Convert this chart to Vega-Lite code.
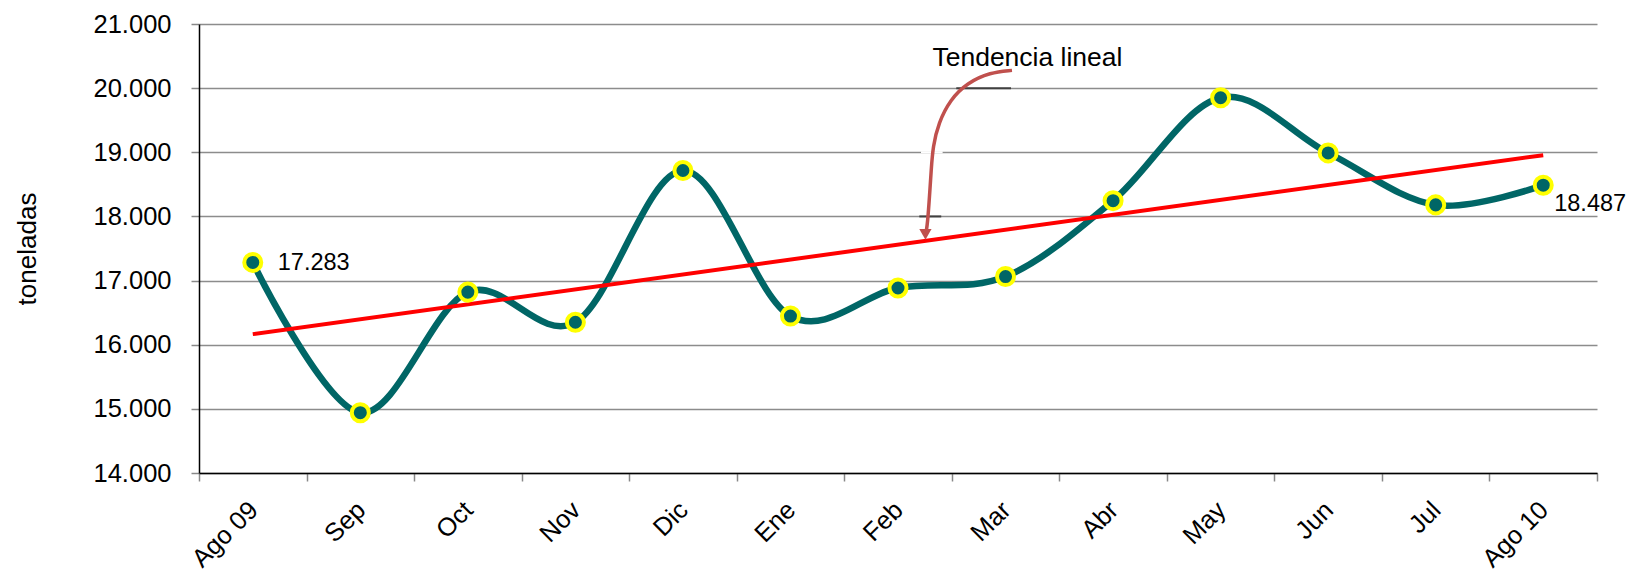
{
  "$schema": "https://vega.github.io/schema/vega-lite/v6.json",
  "width": 1398,
  "height": 449,
  "autosize": {"type": "none"},
  "padding": {"left": 199, "top": 24, "right": 34, "bottom": 103},
  "background": "white",
  "config": {
    "font": "Liberation Sans",
    "view": {"stroke": null},
    "locale": {"number": {"decimal": ",", "thousands": ".", "grouping": [3], "currency": ["", " €"]}}
  },
  "datasets": {
    "serie": [
      {"mes": "Ago 09", "t": 17283},
      {"mes": "Sep", "t": 14940},
      {"mes": "Oct", "t": 16820},
      {"mes": "Nov", "t": 16350},
      {"mes": "Dic", "t": 18716},
      {"mes": "Ene", "t": 16447},
      {"mes": "Feb", "t": 16884},
      {"mes": "Mar", "t": 17063},
      {"mes": "Abr", "t": 18246},
      {"mes": "May", "t": 19850},
      {"mes": "Jun", "t": 18990},
      {"mes": "Jul", "t": 18180},
      {"mes": "Ago 10", "t": 18487}
    ],
    "tendencia": [
      {"mes": "Ago 09", "t": 16165},
      {"mes": "Ago 10", "t": 18955}
    ],
    "flecha": [
      {"i": 7.06, "t": 20277},
      {"i": 6.858, "t": 20246},
      {"i": 6.641, "t": 20080},
      {"i": 6.486, "t": 19820},
      {"i": 6.377, "t": 19461},
      {"i": 6.325, "t": 19092},
      {"i": 6.309, "t": 18729},
      {"i": 6.293, "t": 18312},
      {"i": 6.275, "t": 17898},
      {"i": 6.262, "t": 17760}
    ],
    "punta": [{"i": 6.255, "t": 17720}],
    "nota": [{"i": 6.32, "t": 20464, "txt": "Tendencia lineal"}],
    "marcas": [
      {"i": 6.542, "i2": 7.051, "t": 20000, "c": "dark"},
      {"i": 6.198, "i2": 6.402, "t": 18000, "c": "dark"},
      {"i": 6.214, "i2": 6.415, "t": 19000, "c": "gap"}
    ]
  },
  "layer": [
    {
      "layer": [
        {
          "data": {"name": "serie"},
          "mark": {"type": "line", "color": "#006666", "strokeWidth": 6.5, "interpolate": "cardinal"},
          "encoding": {
            "x": {
              "field": "mes", "type": "ordinal", "sort": null,
              "scale": {"type": "band", "paddingInner": 0, "paddingOuter": 0},
              "axis": {
                "title": null, "tickBand": "extent", "labelAngle": -45, "labelFontSize": 25.5,
                "labelColor": "black", "tickColor": "#888888", "tickSize": 8, "tickWidth": 1.5,
                "domainColor": "black", "domainWidth": 1.5, "labelPadding": 16, "labelOffset": -8, "grid": false
              }
            },
            "y": {
              "field": "t", "type": "quantitative",
              "scale": {"domain": [14000, 21000], "nice": false, "zero": false},
              "axis": {
                "title": "toneladas", "titleFontSize": 26, "titleFontWeight": "normal", "titleColor": "black",
                "titlePadding": 53, "values": [14000, 15000, 16000, 17000, 18000, 19000, 20000, 21000],
                "format": ",d", "labelFontSize": 25.5, "labelColor": "black", "labelPadding": 20,
                "tickColor": "#888888", "tickSize": 8, "tickWidth": 1.5,
                "domainColor": "black", "domainWidth": 1.5,
                "grid": true, "gridColor": "#8c8c8c", "gridWidth": 1.5
              }
            }
          }
        },
        {
          "data": {"name": "tendencia"},
          "mark": {"type": "line", "color": "#ff0000", "strokeWidth": 4},
          "encoding": {
            "x": {"field": "mes", "type": "ordinal", "sort": null},
            "y": {"field": "t", "type": "quantitative"}
          }
        },
        {
          "data": {"name": "serie"},
          "mark": {"type": "point", "filled": false, "fill": "#006666", "stroke": "#ffff00", "strokeWidth": 4, "size": 290, "opacity": 1},
          "encoding": {
            "x": {"field": "mes", "type": "ordinal", "sort": null},
            "y": {"field": "t", "type": "quantitative"}
          }
        },
        {
          "data": {"name": "serie"},
          "transform": [{"filter": "datum.mes == 'Ago 09'"}],
          "mark": {"type": "text", "align": "left", "baseline": "middle", "dx": 25, "dy": 1, "fontSize": 23.5, "color": "black"},
          "encoding": {
            "x": {"field": "mes", "type": "ordinal", "sort": null},
            "y": {"field": "t", "type": "quantitative"},
            "text": {"field": "t", "type": "quantitative", "format": ",d"}
          }
        },
        {
          "data": {"name": "serie"},
          "transform": [{"filter": "datum.mes == 'Ago 10'"}],
          "mark": {"type": "text", "align": "left", "baseline": "middle", "dx": 11, "dy": 19, "fontSize": 23.5, "color": "black"},
          "encoding": {
            "x": {"field": "mes", "type": "ordinal", "sort": null},
            "y": {"field": "t", "type": "quantitative"},
            "text": {"field": "t", "type": "quantitative", "format": ",d"}
          }
        }
      ]
    },
    {
      "layer": [
        {
          "data": {"name": "marcas"},
          "mark": {"type": "rule", "strokeWidth": 2},
          "encoding": {
            "x": {"field": "i", "type": "quantitative", "scale": {"domain": [-0.5, 12.5], "nice": false, "zero": false}, "axis": null},
            "x2": {"field": "i2"},
            "y": {"field": "t", "type": "quantitative"},
            "color": {"field": "c", "type": "nominal", "scale": {"domain": ["dark", "gap"], "range": ["#404040", "#ffffff"]}, "legend": null}
          }
        },
        {
          "data": {"name": "flecha"},
          "mark": {"type": "line", "color": "#c0504d", "strokeWidth": 3.5, "interpolate": "basis"},
          "encoding": {
            "x": {"field": "i", "type": "quantitative", "axis": null},
            "y": {"field": "t", "type": "quantitative"}
          }
        },
        {
          "data": {"name": "punta"},
          "mark": {"type": "point", "shape": "triangle-down", "filled": true, "color": "#c0504d", "size": 150, "opacity": 1},
          "encoding": {
            "x": {"field": "i", "type": "quantitative", "axis": null},
            "y": {"field": "t", "type": "quantitative"}
          }
        },
        {
          "data": {"name": "nota"},
          "mark": {"type": "text", "align": "left", "baseline": "middle", "fontSize": 26.5, "color": "black"},
          "encoding": {
            "x": {"field": "i", "type": "quantitative", "axis": null},
            "y": {"field": "t", "type": "quantitative"},
            "text": {"field": "txt"}
          }
        }
      ]
    }
  ],
  "resolve": {"scale": {"x": "independent"}}
}
